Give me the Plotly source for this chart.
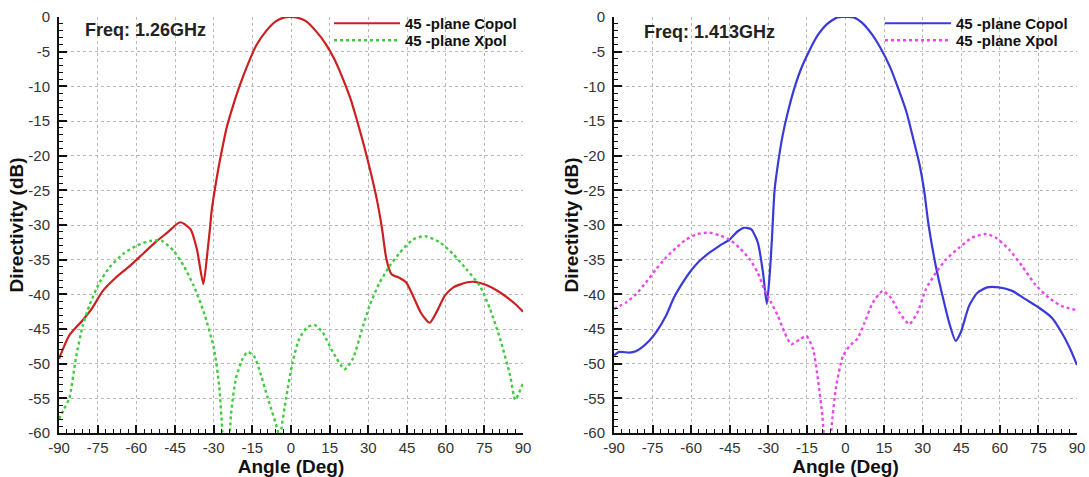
import plotly.graph_objects as go

# ---------------- data (angle in deg, directivity in dB) ----------------
ang_co_126 = [-90, -86, -81, -77, -73, -68, -62.5, -57, -52, -48, -43, -39, -36.5, -34, -32.3, -31.3,
              -30.8, -28.8, -26.9, -25, -22.4, -19.9, -16.7, -13.5, -9.6, -5.8, -2.5, 0, 2.5, 5.8,
              9.6, 13.5, 16.7, 19.9, 23.1, 25.6, 28.2, 30.8, 33.3, 35.3, 37, 39, 42, 44.7, 47.3, 50.6,
              53.8, 56.4, 59.7, 63, 68, 71.3, 76, 81, 87, 90]
db_co_126 = [-49.3, -45.9, -43.8, -41.9, -39.5, -37.6, -35.9, -34.0, -32.3, -31.1, -29.6, -30.6, -33.5, -38.5, -33.5, -30.0,
             -28.0, -23.2, -19.4, -16.0, -12.7, -9.9, -6.8, -4.1, -2.0, -0.6, -0.05, 0, -0.1, -0.6,
             -2.0, -3.9, -6.0, -8.7, -11.8, -14.9, -18.4, -22.2, -26.3, -30.5, -34.9, -37.1, -37.6, -38.3, -40.2, -42.8,
             -44.1, -42.6, -40.2, -39.0, -38.3, -38.2, -38.7, -39.7, -41.4, -42.5]

ang_x_126 = [-90, -88, -86, -83.5, -80.8, -78.2, -74.3, -70.4, -65.2, -60, -54.7, -50.1, -45.6, -41.6, -37.7, -33.8,
             -29.9, -27.9, -26.6, -25, -23.3, -21.4, -18.8, -16.8, -14.2, -11.6, -9.0, -5.0, -4.5, -3.9, -1.9, 0.6,
             3.2, 6.5, 9.1, 12.3, 16.2, 20.8, 24, 27.2, 30.5, 34.4, 38.3, 42.2, 47.3, 51.9, 57.7, 62.9,
             68.1, 73.3, 77.2, 81.1, 85, 87, 90]
db_x_126 = [-58.0, -56.5, -55.0, -49.3, -44.5, -41.6, -38.3, -36.1, -34.2, -33.0, -32.3, -32.3, -33.7, -35.9, -38.8, -42.6,
            -47.8, -53.1, -60, -70, -57.4, -52.2, -49.3, -48.3, -49.0, -51.7, -55.0, -60, -66, -60, -55.0, -49.8,
            -46.4, -44.7, -44.4, -45.5, -48.3, -50.8, -49.3, -45.5, -41.6, -38.3, -35.9, -34.0, -32.1, -31.6, -32.5, -34.2,
            -36.4, -38.8, -42.1, -46.4, -51.7, -55.2, -52.8]

ang_co_1413 = [-90, -88, -84, -81.5, -79, -76.3, -73.1, -69.8, -66.6, -63.3, -60.1, -56.8, -52.9, -49, -45.1, -41.9,
               -39.3, -36.7, -34.1, -32.1, -30.6, -29.5, -28.6, -27.6, -26.3, -24.4, -22.4, -19.9, -17.3, -14.1,
               -10.9, -7.1, -3.2, 0, 3.2, 6.4, 10.3, 13.5, 17.3, 20.5, 23.7, 26.3, 28.8, 30.6, 32.3, 35.1,
               37.7, 40.3, 42.8, 44.8, 48, 51.2, 55.1, 59.6, 64.8, 69.9, 75.1, 80.3, 84.8, 87.5, 90]
db_co_1413 = [-48.8, -48.3, -48.4, -48.2, -47.6, -46.7, -45.2, -43.1, -40.4, -38.3, -36.6, -35.2, -34.0, -33.0, -32.1, -30.9,
              -30.4, -30.6, -32.5, -36.8, -41.4, -37.3, -32.0, -25.1, -21.3, -17.0, -13.7, -10.3, -7.5, -4.9,
              -2.7, -1.0, -0.05, 0, -0.05, -0.8, -2.5, -4.4, -7.2, -10.3, -13.7, -17.5, -21.3, -25.1, -30.0, -35.9,
              -40.2, -44.1, -46.7, -45.5, -41.7, -39.8, -39.0, -39.0, -39.5, -40.7, -41.9, -43.4, -46.0, -48.0, -50.2]

ang_x_1413 = [-90, -85.4, -81.5, -77.6, -73.7, -69.8, -65.9, -62, -57.5, -52.9, -49, -45.1, -41.2, -37.3, -34.1, -31.5,
              -28.9, -26.3, -23.7, -21.1, -17.8, -15.2, -12.6, -10.7, -9.0, -8.5, -7.0, -5.5, -3.6, -1.0, 1.5,
              4.8, 7.4, 10.6, 14.5, 17.7, 20.9, 24.8, 28, 31.2, 35.1, 39, 44.1, 49.3, 54.5, 58.3, 63.5,
              68.6, 73.8, 79, 84.1, 90]
db_x_1413 = [-42.1, -41.2, -40.0, -38.3, -36.4, -34.7, -33.3, -32.1, -31.3, -31.1, -31.5, -32.1, -33.3, -34.9, -36.9, -39.3,
             -41.2, -43.1, -45.5, -47.2, -46.5, -46.0, -47.9, -52.3, -57.5, -60, -70, -59.5, -53.2, -48.9, -47.5,
             -46.3, -44.1, -41.2, -39.5, -40.5, -42.6, -44.3, -42.6, -39.3, -36.9, -35.0, -33.3, -31.8, -31.3, -31.8, -33.5,
             -35.9, -38.6, -40.5, -41.7, -42.3]

x_tick_vals = [-90, -75, -60, -45, -30, -15, 0, 15, 30, 45, 60, 75, 90]
x_tick_text = ["-90", "-75", "-60", "-45", "-30", "-15", "0", "15", "30", "45", "60", "75", "90"]
y_tick_vals = [0, -5, -10, -15, -20, -25, -30, -35, -40, -45, -50, -55, -60]
y_tick_text = ["0", "-5", "-10", "-15", "-20", "-25", "-30", "-35", "-40", "-45", "-50", "-55", "-60"]

freq_labels = ["Freq: 1.26GHz", "Freq: 1.413GHz"]
names = ["45 -plane Copol", "45 -plane Xpol"]

# ---------------- figure ----------------
FONT = "Liberation Sans, Arial, sans-serif"
W, H = 1089, 477
fig = go.Figure()

def add(x, y, name, color, dash, xa, ya, leg):
    fig.add_trace(go.Scatter(x=x, y=y, name="<b>" + name + "</b>", mode="lines",
                             line=dict(color=color, width=2.2 if dash == "solid" else 2.4,
                                       dash=dash, shape="spline", smoothing=0.6),
                             xaxis=xa, yaxis=ya, legend=leg))

add(ang_co_126, db_co_126, names[0], "#cc1f1f", "solid", "x", "y", "legend")
add(ang_x_126, db_x_126, names[1], "#3ccc3c", "dot", "x", "y", "legend2")
add(ang_co_1413, db_co_1413, names[0], "#3a3ad6", "solid", "x2", "y2", "legend3")
add(ang_x_1413, db_x_1413, names[1], "#ee44ee", "dot", "x2", "y2", "legend4")

ydom = [44 / H, 1 - 17 / H]
xdom1 = [59 / W, 523 / W]
xdom2 = [614 / W, 1077 / W]

def xaxis(dom, anchor):
    return dict(domain=dom, anchor=anchor, range=[-90, 90], tickvals=x_tick_vals, ticktext=x_tick_text,
                automargin=False,
                ticks="inside", ticklen=8, tickwidth=2, tickcolor="#111",
                minor=dict(ticks="inside", dtick=3, tick0=0, ticklen=4, tickwidth=1, tickcolor="#111", showgrid=False),
                showline=True, linecolor="#111", linewidth=2, mirror=False,
                showgrid=True, gridcolor="#b8b8b8", griddash="dot", gridwidth=1, zeroline=False,
                tickfont=dict(family=FONT, size=15, color="#333"),
                title=dict(text="<b>Angle (Deg)</b>", font=dict(family=FONT, size=19, color="#111"), standoff=2))

def yaxis(anchor):
    return dict(domain=ydom, anchor=anchor, range=[-60, 0], tickvals=y_tick_vals, ticktext=y_tick_text,
                automargin=False,
                ticks="inside", ticklen=8, tickwidth=2, tickcolor="#111", ticklabelstandoff=4,
                minor=dict(ticks="inside", dtick=1, tick0=0, ticklen=4, tickwidth=1, tickcolor="#111", showgrid=False),
                showline=True, linecolor="#111", linewidth=2, mirror=False,
                showgrid=True, gridcolor="#b8b8b8", griddash="dot", gridwidth=1, zeroline=False,
                tickfont=dict(family=FONT, size=15, color="#333"),
                title=dict(text="<b>Directivity (dB)</b>", font=dict(family=FONT, size=19, color="#111"), standoff=0))

def leg(xpx, ypx):
    return dict(x=xpx / W, y=1 - ypx / H, xanchor="left", yanchor="top",
                bgcolor="rgba(0,0,0,0)", font=dict(family=FONT, size=15, color="#111"),
                itemwidth=66, tracegroupgap=0)

fig.update_layout(
    width=W, height=H, autosize=False,
    margin=dict(l=0, r=0, t=0, b=0),
    paper_bgcolor="white", plot_bgcolor="white",
    xaxis=xaxis(xdom1, "y"), yaxis=yaxis("x"),
    xaxis2=xaxis(xdom2, "y2"), yaxis2=yaxis("x2"),
    legend=leg(329, 7), legend2=leg(329, 24),
    legend3=leg(880, 7), legend4=leg(880, 24),
    showlegend=True,
)

fig.add_annotation(x=-80.7, y=-1.9, xref="x", yref="y", text="<b>" + freq_labels[0] + "</b>",
                   showarrow=False, xanchor="left", yanchor="middle",
                   font=dict(family=FONT, size=18, color="#222"))
fig.add_annotation(x=-79.3, y=-2.2, xref="x2", yref="y2", text="<b>" + freq_labels[1] + "</b>",
                   showarrow=False, xanchor="left", yanchor="middle",
                   font=dict(family=FONT, size=18, color="#222"))

fig.write_html("out.html")
